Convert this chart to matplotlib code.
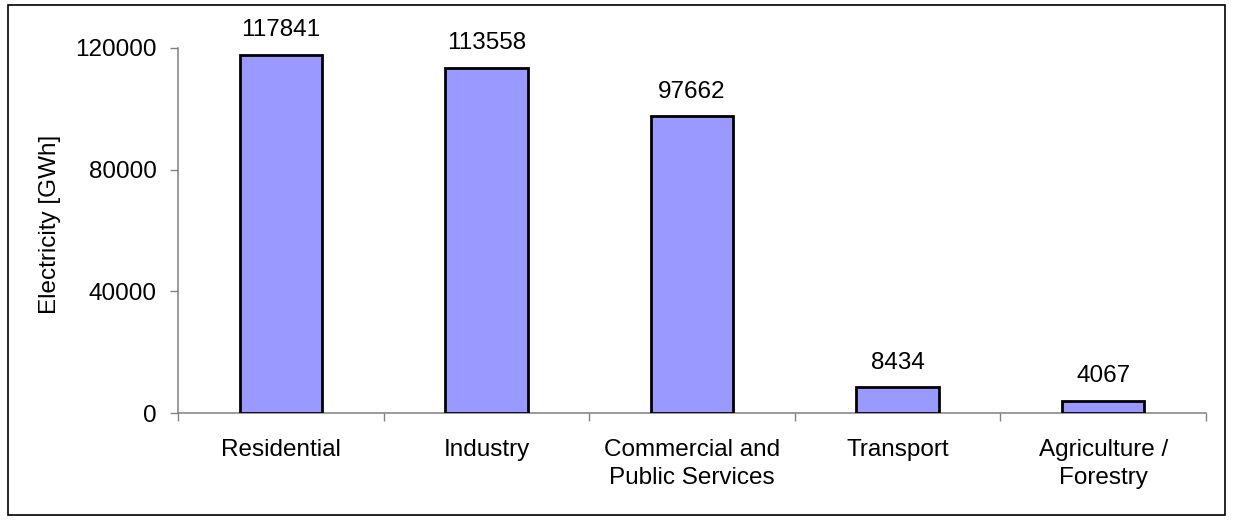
import numpy as np
import matplotlib.pyplot as plt
from matplotlib.patches import Rectangle

plt.rcParams['font.family'] = ['Liberation Sans', 'DejaVu Sans']

sectors = ['Residential', 'Industry', 'Commercial and\nPublic Services',
           'Transport', 'Agriculture /\nForestry']
electricity = [117841, 113558, 97662, 8434, 4067]
yticks = [0, 40000, 80000, 120000]

fs = 17.5
fig = plt.figure(figsize=(12.33, 5.2), dpi=100)
ax = fig.add_axes([178/1233, 1 - 413/520, (1206 - 178)/1233, (413 - 48)/520])

x = np.arange(len(sectors))
ax.bar(x, electricity, width=0.4, color='#9999FF', edgecolor='black',
       linewidth=2, zorder=3)
for xi, v in zip(x, electricity):
    ax.annotate(str(v), (xi, v), xytext=(0, 9.5), textcoords='offset points',
                ha='center', va='bottom', fontsize=fs)

ax.set_xlim(-0.5, len(sectors) - 0.5)
ax.set_ylim(0, 120000)
ax.set_yticks(yticks)
ax.set_yticklabels([str(t) for t in yticks], fontsize=fs)
ax.set_xticks(x)
ax.set_xticklabels(sectors, fontsize=fs, linespacing=1.4)
ax.tick_params(axis='x', length=0, pad=18.5)
ax.tick_params(axis='y', length=6, width=1, color='#808080', pad=9.4)
# category separators below the x axis
ax.set_xticks(np.arange(-0.5, len(sectors)), minor=True)
ax.tick_params(axis='x', which='minor', length=6, width=1, color='#808080')

for side in ['top', 'right']:
    ax.spines[side].set_visible(False)
for side in ['left', 'bottom']:
    ax.spines[side].set_color('#808080')
    ax.spines[side].set_linewidth(1.1)

ax.set_ylabel('Electricity [GWh]', fontsize=fs)
ax.yaxis.set_label_coords(-0.114, 0.516)

fig.patches.append(Rectangle((8/1233, 1 - 515/520), (1225 - 8)/1233, (515 - 5)/520,
                             transform=fig.transFigure, fill=False,
                             edgecolor='black', linewidth=1.2))

fig.savefig('out.png', dpi=100)
